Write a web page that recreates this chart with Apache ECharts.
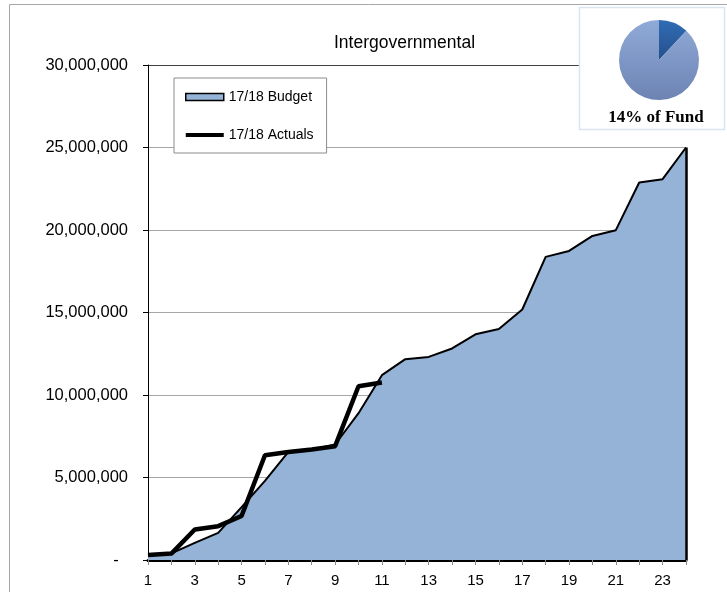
<!DOCTYPE html>
<html>
<head>
<meta charset="utf-8">
<script src="https://cdn.jsdelivr.net/npm/echarts@6/dist/echarts.min.js"></script>
<style>html,body{margin:0;padding:0;background:#fff}#c{width:727px;height:592px}</style>
</head>
<body>
<div id="c"></div>
<script>
var categories = ['1','2','3','4','5','6','7','8','9','10','11','12','13','14','15','16','17','18','19','20','21','22','23','24'];
var budget = [300000, 400000, 1040000, 1640000, 3200000, 4800000, 6550000, 6680000, 7000000, 8900000, 11200000, 12170000, 12310000, 12820000, 13680000, 14000000, 15180000, 18370000, 18730000, 19640000, 19990000, 22880000, 23080000, 25000000];
var actuals = [300000, 390000, 1850000, 2050000, 2670000, 6350000, 6550000, 6700000, 6900000, 10530000, 10760000];
var yTicks = [0, 5000000, 10000000, 15000000, 20000000, 25000000, 30000000];
var pieShare = [12, 88];
var pieLabel = '14% of Fund';
var titleText = 'Intergovernmental';
var seriesNames = ['17/18 Budget', '17/18 Actuals'];

var chart = echarts.init(document.getElementById('c'), null, {renderer: 'canvas'});
var option = {
  animation: false,
  backgroundColor: '#fff',
  title: [{
    text: titleText, left: 329, top: 29,
    textStyle: {fontFamily: 'Liberation Sans, Arial', fontSize: 17.5, fontWeight: 'normal', color: '#000'}
  }],
  legend: {
    orient: 'vertical', left: 174, top: 78,
    padding: [12, 13, 11, 11],
    itemGap: 24, itemWidth: 38, itemHeight: 7,
    backgroundColor: '#fff', borderColor: '#8c8c8c', borderWidth: 1,
    textStyle: {fontFamily: 'Liberation Sans, Arial', fontSize: 14, color: '#000'},
    data: [
      {name: seriesNames[0], icon: 'rect', itemStyle: {color: '#95b3d7', borderColor: '#000', borderWidth: 1.5}},
      {name: seriesNames[1], icon: 'path://M0,0H38V4H0Z', itemStyle: {color: '#000'}}
    ],
    z: 20
  },
  grid: {left: 148, right: 41, top: 65, bottom: 32, containLabel: false},
  xAxis: {
    type: 'category', data: categories, boundaryGap: false,
    axisLine: {lineStyle: {color: '#000', width: 3}},
    axisTick: {show: true, interval: 0, length: 5, lineStyle: {color: '#888'}},
    axisLabel: {interval: 1, margin: 13, fontFamily: 'Liberation Sans, Arial', fontSize: 15, color: '#000'},
    splitLine: {show: false}
  },
  yAxis: {
    type: 'value', min: yTicks[0], max: yTicks[yTicks.length - 1], interval: yTicks[1] - yTicks[0],
    axisLine: {show: true, lineStyle: {color: '#000', width: 1}},
    axisTick: {show: true, length: 5, lineStyle: {color: '#000'}},
    axisLabel: {
      margin: 20, fontFamily: 'Liberation Sans, Arial', fontSize: 16.5, color: '#000',
      formatter: function (v) { return v === 0 ? '-\u00a0\u00a0' : v.toLocaleString('en-US'); }
    },
    splitLine: {show: true, lineStyle: {color: ['#a6a6a6','#a6a6a6','#a6a6a6','#a6a6a6','#a6a6a6','#a6a6a6','#404040'], width: 1}}
  },
  graphic: [
    {type: 'line', shape: {x1: 9.5, y1: 4.5, x2: 727, y2: 4.5}, style: {stroke: '#a6a6a6', lineWidth: 1}, z: 1},
    {type: 'line', shape: {x1: 9.5, y1: 4.5, x2: 9.5, y2: 592}, style: {stroke: '#a6a6a6', lineWidth: 1}, z: 1},
    {type: 'rect', shape: {x: 579.5, y: 7.5, width: 145, height: 122}, style: {fill: '#fff', stroke: '#dbe5f1', lineWidth: 1.5}, z: 50},
    {type: 'text', x: 656, y: 118, z: 61, style: {text: pieLabel, fill: '#000', font: 'bold 17px "Liberation Serif", "Times New Roman", serif', textAlign: 'center', textVerticalAlign: 'middle'}}
  ],
  series: [
    {
      name: seriesNames[0], type: 'line', data: budget, showSymbol: false, symbol: 'none',
      lineStyle: {color: '#000', width: 2}, itemStyle: {color: '#95b3d7'},
      areaStyle: {color: '#95b3d7', opacity: 1}, z: 2,
      markLine: {
        silent: true, symbol: 'none', label: {show: false},
        lineStyle: {color: '#000', width: 2.5, type: 'solid'},
        data: [[{coord: [categories.length - 1, 0]}, {coord: [categories.length - 1, budget[budget.length - 1]]}]]
      }
    },
    {
      name: seriesNames[1], type: 'line', data: actuals, showSymbol: false, symbol: 'none',
      lineStyle: {color: '#000', width: 4.5}, itemStyle: {color: '#000'}, z: 3
    },
    {
      type: 'pie', center: [659, 60], radius: 40, startAngle: 90, silent: true, z: 60,
      label: {show: false}, labelLine: {show: false}, emphasis: {disabled: true},
      data: [
        {value: pieShare[0], name: 'share', itemStyle: {color: new echarts.graphic.LinearGradient(0, 0, 0, 1, [{offset: 0, color: '#306db5'}, {offset: 1, color: '#254f8c'}])}},
        {value: pieShare[1], name: 'rest', itemStyle: {color: new echarts.graphic.LinearGradient(0, 0, 0, 1, [{offset: 0, color: '#90aad8'}, {offset: 1, color: '#6d84b3'}])}}
      ]
    }
  ]
};
chart.setOption(option);
</script>
</body>
</html>
